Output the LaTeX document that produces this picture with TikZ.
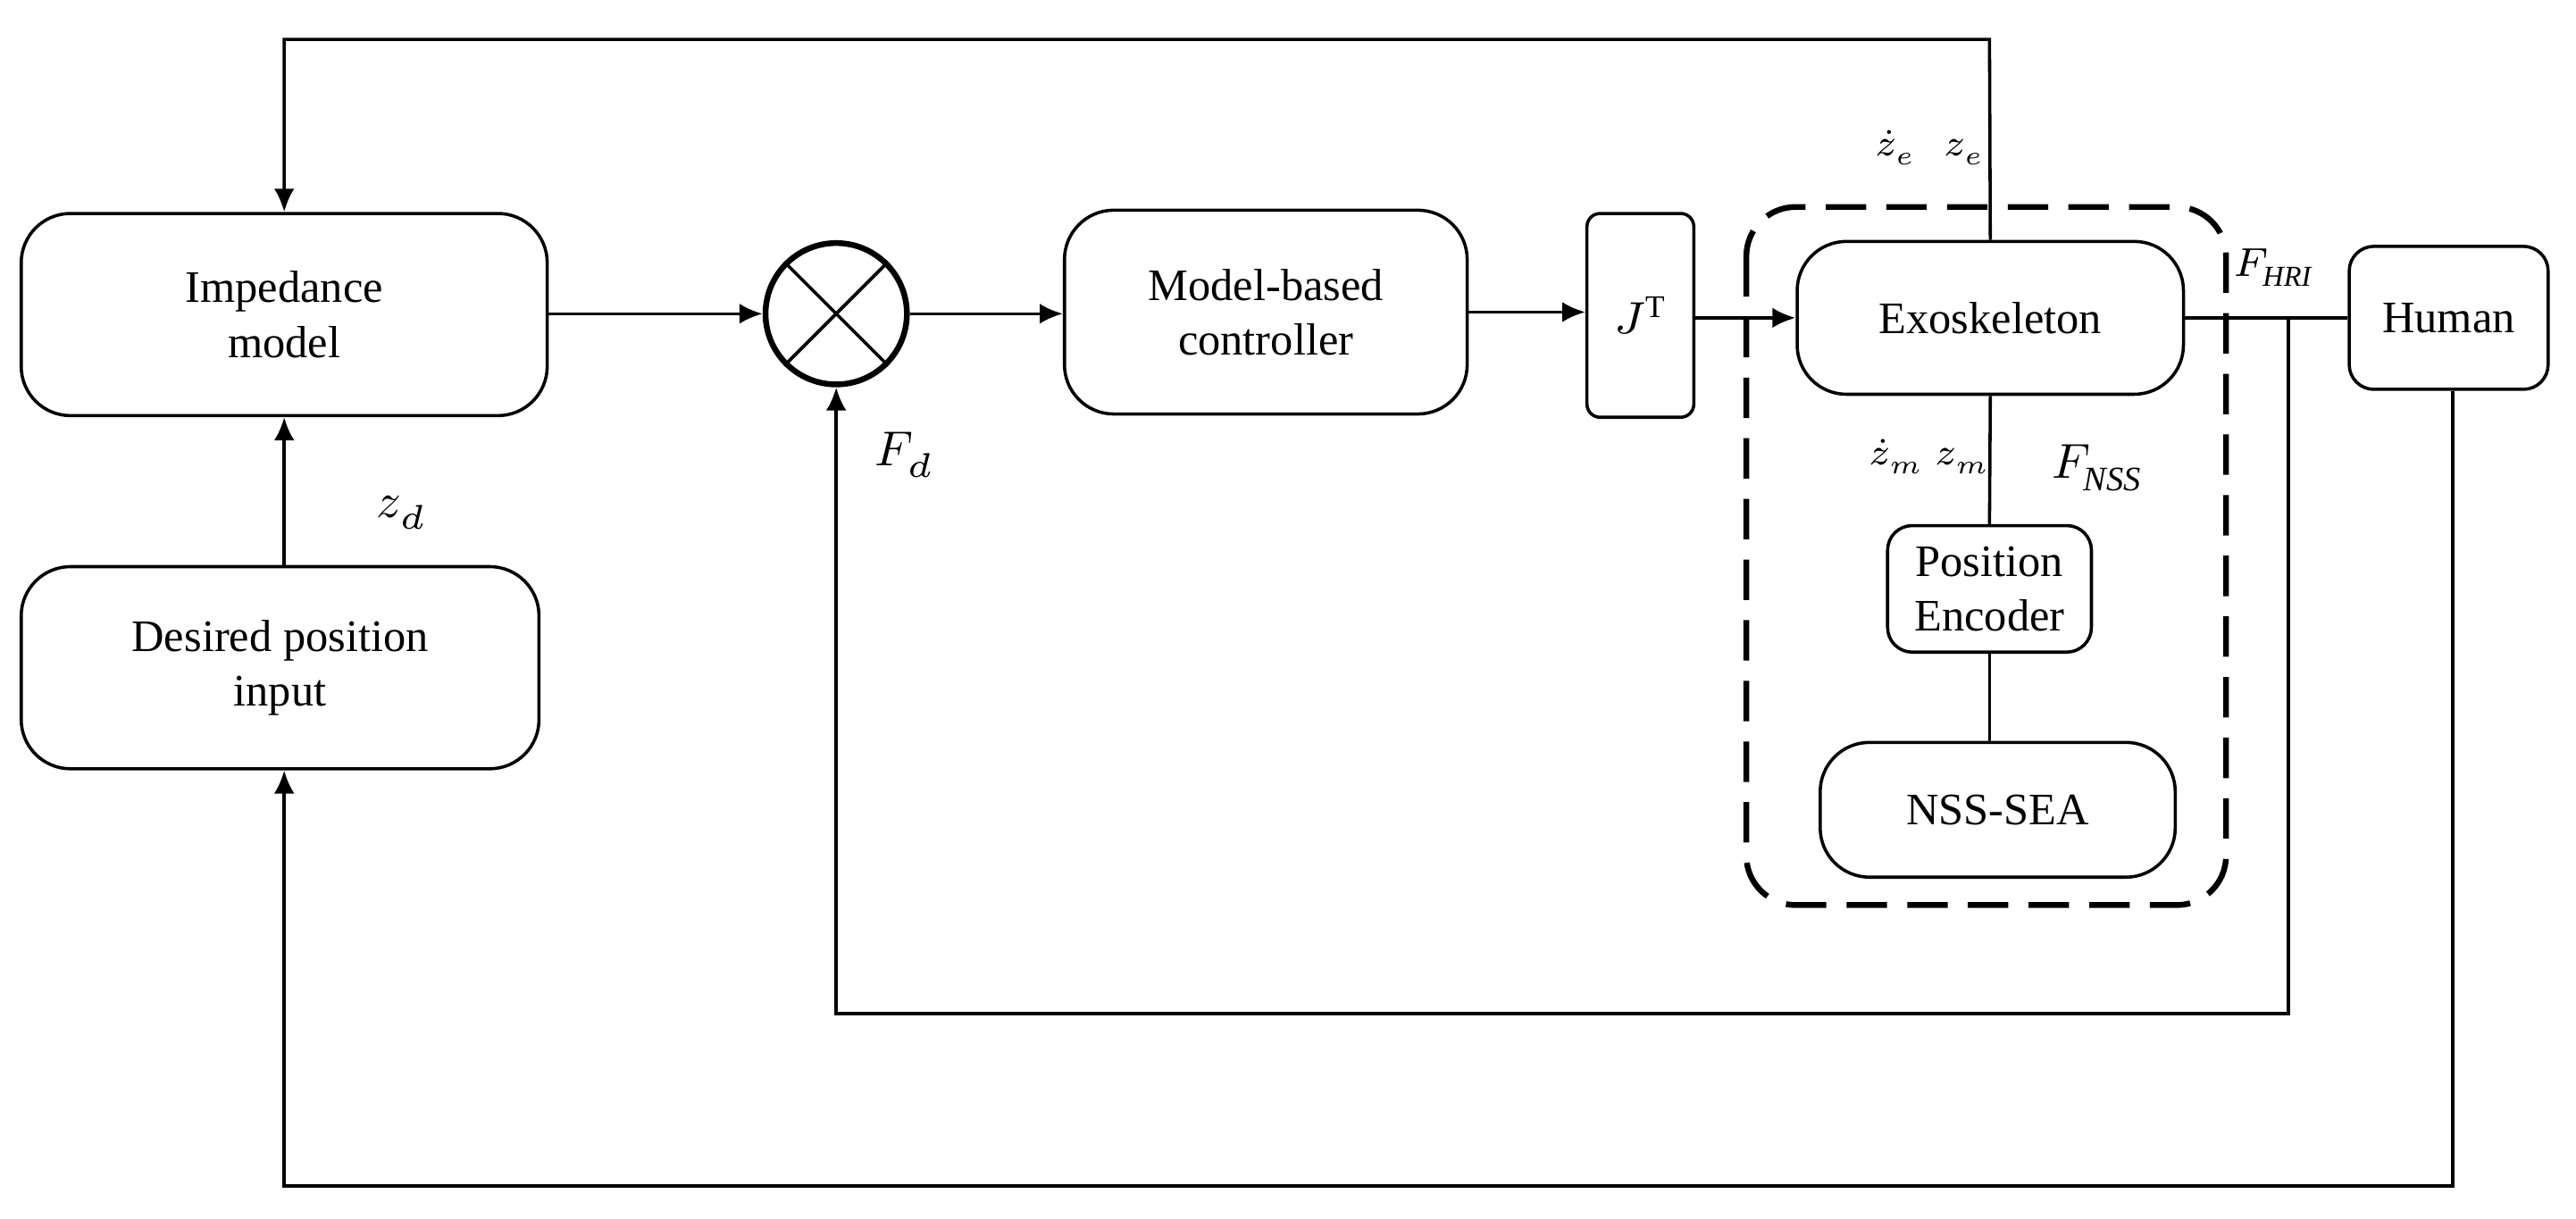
\documentclass[tikz,border=0pt]{standalone}
\usepackage{fontspec}
\setmainfont{Liberation Serif}
\usepackage{unicode-math}
\setmathfont{Latin Modern Math}
\usetikzlibrary{arrows.meta}
\begin{document}
\begin{tikzpicture}[x=0.01cm,y=-0.01cm,font=\fontsize{7.8}{9.5}\selectfont,
 box/.style={draw,line width=0.55pt,rounded corners=0.3cm,align=center,inner sep=0},
 ln/.style={line width=0.55pt},
 ar/.style={ln,-{Latex[length=4pt,width=3.5pt]}},
 lab/.style={font=\fontsize{8.5}{10}\selectfont}]
\useasboundingbox (0,0) rectangle (1568,742);
\node[box,minimum width=3.2cm,minimum height=1.23cm] (imp) at (173,191.5) {Impedance\\model};
\node[box,minimum width=3.15cm,minimum height=1.23cm] (des) at (170.5,406.5) {Desired position\\input};
\node[draw,circle,line width=1pt,minimum size=0.86cm,inner sep=0] (sum) at (509,191) {};
\draw[ln] (sum.45)--(sum.225) (sum.135)--(sum.315);
\node[box,minimum width=2.45cm,minimum height=1.24cm] (ctl) at (770.5,190) {Model-based\\controller};
\node[box,rounded corners=0.08cm,minimum width=0.65cm,minimum height=1.24cm] (jt) at (998.5,192) {$J^{\mathrm{T}}$};
\draw[line width=1pt,dash pattern=on 7pt off 3.5pt,rounded corners=0.3cm] (1063,126) rectangle (1355,551);
\node[box,minimum width=2.35cm,minimum height=0.93cm] (exo) at (1211.5,193.5) {Exoskeleton};
\node[box,rounded corners=0.15cm,minimum width=1.24cm,minimum height=0.77cm] (enc) at (1211,358.5) {Position\\Encoder};
\node[box,minimum width=2.16cm,minimum height=0.82cm] (nss) at (1216,493) {NSS-SEA};
\node[box,rounded corners=0.15cm,minimum width=1.21cm,minimum height=0.87cm] (hum) at (1490.5,193.5) {Human};
\coordinate (t1) at (1211,24); \coordinate (t2) at (173,24);
\draw[ar] (exo.north) -- (t1) -- (t2) -- (imp.north);
\draw[ar] (imp.south|-des.north) -- (imp.south);
\draw[ar] (imp.east|-sum) -- (sum.west);
\draw[ar] (sum.east) -- (ctl.west|-sum);
\draw[ar] (ctl.east) -- (jt.west|-ctl);
\draw[ar] (jt.east|-exo) -- (exo.west);
\draw[ln] (exo.east) -- (hum.west);
\coordinate (f1) at (1393,193.5); \coordinate (f2) at (1393,617); \coordinate (f3) at (509,617);
\draw[ar] (f1) -- (f2) -- (f3) -- (sum.south);
\coordinate (h1) at (1493,722); \coordinate (h2) at (173,722);
\draw[ar] (hum.south-|h1) -- (h1) -- (h2) -- (h2|-des.south);
\draw[ln] (exo.south) -- (enc.north);
\draw[ln] (enc.south) -- (enc.south|-nss.north);
\node[lab] (zd) at (245,312) {$z_d$};
\node[lab] (fd) at (551,277) {$F_d$};
\node[font=\fontsize{6.5}{8}\selectfont] (ze) at (1175,90) {$\dot z_e\;\;\, z_e$};
\node[font=\fontsize{6.5}{8}\selectfont] (zm) at (1175,278) {$\dot z_m\; z_m$};
\node[lab] (fn) at (1277,285) {$F_{\mathit{NSS}}$};
\node[font=\fontsize{7}{8}\selectfont] (fh) at (1384,163) {$F_{\mathit{HRI}}$};
\end{tikzpicture}
\end{document}
